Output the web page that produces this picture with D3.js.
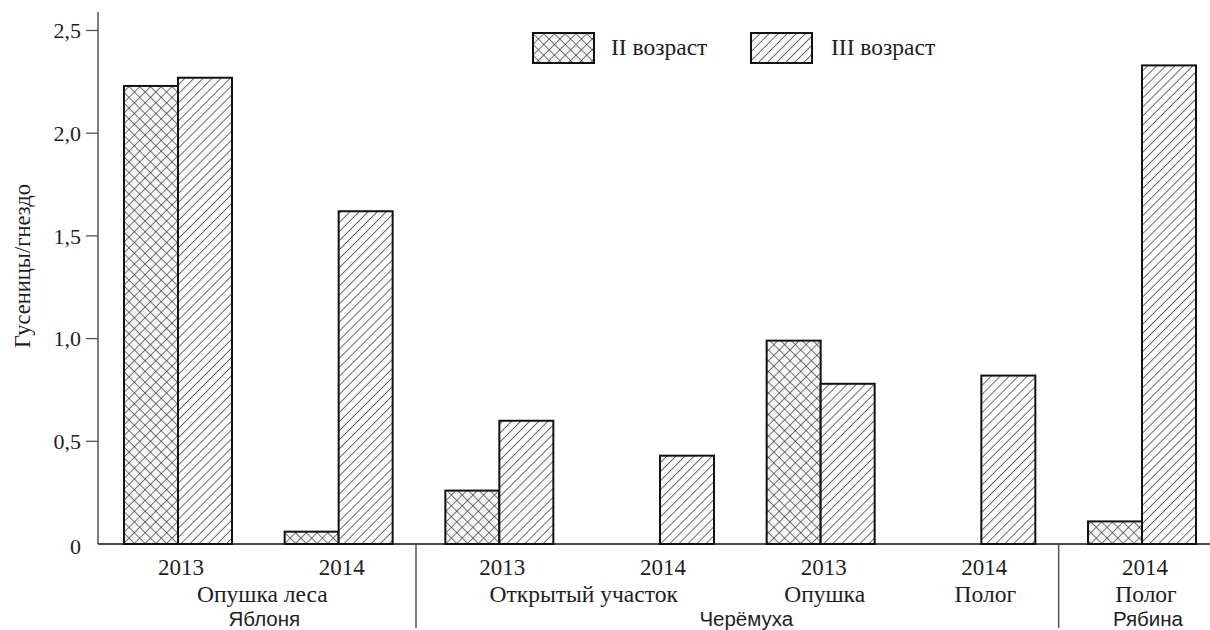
<!DOCTYPE html>
<html>
<head>
<meta charset="utf-8">
<script src="https://cdn.jsdelivr.net/npm/d3@7"></script>
<style>
  body { margin: 0; background: #fff; }
  text { fill: #1e1e1e; }
  .serif { font-family: "Liberation Serif", "Times New Roman", serif; }
  .sans { font-family: "Liberation Sans", Arial, sans-serif; }
</style>
</head>
<body>
<div id="chart"></div>
<script>
var width = 1210,
  height = 630,
  barWidth = 54;

// data
var years = ["2013", "2014", "2013", "2014", "2013", "2014", "2014"];
var age2 = [2.23, 0.06, 0.26, 0, 0.99, 0, 0.11];
var age3 = [2.27, 1.62, 0.60, 0.43, 0.78, 0.82, 2.33];
var sites = [
  { name: "Опушка леса", from: 0, to: 1 },
  { name: "Открытый участок", from: 2, to: 3 },
  { name: "Опушка", from: 4, to: 4 },
  { name: "Полог", from: 5, to: 5 },
  { name: "Полог", from: 6, to: 6 }
];
var trees = [
  { name: "Яблоня", from: 0, to: 1 },
  { name: "Черёмуха", from: 2, to: 5 },
  { name: "Рябина", from: 6, to: 6 }
];
var yTicks = [0, 0.5, 1, 1.5, 2, 2.5];
var seriesNames = ["II возраст", "III возраст"];

var svg = d3.select("#chart").append("svg")
  .attr("width", width)
  .attr("height", height);

var defs = svg.append("defs");

var cross = defs.append("pattern")
  .attr("id", "cross")
  .attr("patternUnits", "userSpaceOnUse")
  .attr("width", 7.6)
  .attr("height", 7.6)
  .attr("patternTransform", "rotate(45)");
cross.append("rect").attr("width", 7.6).attr("height", 7.6).attr("fill", "#f6f6f6");
cross.append("line").attr("x1", 0).attr("y1", 0).attr("x2", 0).attr("y2", 7.6)
  .attr("stroke", "#333").attr("stroke-width", 1.3);
cross.append("line").attr("x1", 0).attr("y1", 0).attr("x2", 7.6).attr("y2", 0)
  .attr("stroke", "#333").attr("stroke-width", 1.3);

var hatch = defs.append("pattern")
  .attr("id", "hatch")
  .attr("patternUnits", "userSpaceOnUse")
  .attr("width", 6.4)
  .attr("height", 6.4)
  .attr("patternTransform", "rotate(45)");
hatch.append("rect").attr("width", 6.4).attr("height", 6.4).attr("fill", "#fbfbfb");
hatch.append("line").attr("x1", 0).attr("y1", 0).attr("x2", 0).attr("y2", 6.4)
  .attr("stroke", "#111").attr("stroke-width", 1.2);

var x = d3.scalePoint()
  .domain(d3.range(years.length))
  .range([178, 1142]);

var y = d3.scaleLinear()
  .domain([0, 2.59])
  .range([544, 12]);

// y axis
var axisX = 98;
svg.append("line")
  .attr("x1", axisX).attr("x2", axisX)
  .attr("y1", y(0)).attr("y2", y(2.59))
  .attr("stroke", "#555").attr("stroke-width", 1.5);

var tick = svg.selectAll(".tick")
  .data(yTicks)
  .enter().append("g")
  .attr("class", "tick")
  .attr("transform", function (d) { return "translate(0," + y(d) + ")"; });

tick.filter(function (d) { return d > 0; }).append("line")
  .attr("x1", axisX - 12).attr("x2", axisX)
  .attr("stroke", "#555").attr("stroke-width", 1.3);

tick.append("text")
  .attr("class", "serif")
  .attr("x", 81)
  .attr("y", function (d) { return d === 0 ? 2 : 0; })
  .attr("dy", "0.35em")
  .attr("text-anchor", "end")
  .attr("font-size", 22)
  .text(function (d) { return d === 0 ? "0" : d3.format(".1f")(d).replace(".", ","); });

svg.append("text")
  .attr("class", "serif")
  .attr("transform", "translate(30," + 266 + ") rotate(-90)")
  .attr("text-anchor", "middle")
  .attr("font-size", 22.5)
  .text("Гусеницы/гнездо");

// bars
var bars = svg.append("g");

bars.selectAll(".b2")
  .data(age2)
  .enter().filter(function (d) { return d > 0; })
  .append("rect")
  .attr("x", function (d) { return x(age2.indexOf(d)) - barWidth; })
  .attr("y", function (d) { return y(d); })
  .attr("width", barWidth)
  .attr("height", function (d) { return y(0) - y(d); })
  .attr("fill", "url(#cross)")
  .attr("stroke", "#111")
  .attr("stroke-width", 2);

bars.selectAll(".b3")
  .data(age3)
  .enter().append("rect")
  .attr("x", function (d, i) { return x(i); })
  .attr("y", function (d) { return y(d); })
  .attr("width", barWidth)
  .attr("height", function (d) { return y(0) - y(d); })
  .attr("fill", "url(#hatch)")
  .attr("stroke", "#111")
  .attr("stroke-width", 2);

// baseline
svg.append("line")
  .attr("x1", axisX).attr("x2", width)
  .attr("y1", y(0)).attr("y2", y(0))
  .attr("stroke", "#111").attr("stroke-width", 1.5);

// separators between trees
trees.slice(1).forEach(function (t) {
  var sx = (x(t.from - 1) + x(t.from)) / 2 - 3;
  svg.append("line")
    .attr("x1", sx).attr("x2", sx)
    .attr("y1", y(0)).attr("y2", 628)
    .attr("stroke", "#555").attr("stroke-width", 1.5);
});

// category labels
svg.selectAll(".year")
  .data(years)
  .enter().append("text")
  .attr("class", "serif")
  .attr("x", function (d, i) { return x(i) + 3; })
  .attr("y", 575)
  .attr("text-anchor", "middle")
  .attr("font-size", 23)
  .text(function (d) { return d; });

svg.selectAll(".site")
  .data(sites)
  .enter().append("text")
  .attr("class", "serif")
  .attr("x", function (d) { return (x(d.from) + x(d.to)) / 2 + 4; })
  .attr("y", 602)
  .attr("text-anchor", "middle")
  .attr("font-size", 23.5)
  .text(function (d) { return d.name; });

svg.selectAll(".tree")
  .data(trees)
  .enter().append("text")
  .attr("class", "sans")
  .attr("x", function (d) { return (x(d.from) + x(d.to)) / 2 + 6; })
  .attr("y", 626)
  .attr("text-anchor", "middle")
  .attr("font-size", 20.5)
  .text(function (d) { return d.name; });

// legend
var legend = svg.selectAll(".legend")
  .data(seriesNames)
  .enter().append("g")
  .attr("transform", function (d, i) { return "translate(" + (533 + i * 218) + ",33)"; });

legend.append("rect")
  .attr("width", 61)
  .attr("height", 30)
  .attr("fill", function (d, i) { return i === 0 ? "url(#cross)" : "url(#hatch)"; })
  .attr("stroke", "#111")
  .attr("stroke-width", 2);

legend.append("text")
  .attr("class", "serif")
  .attr("x", function (d, i) { return i === 0 ? 78 : 80; })
  .attr("y", 22)
  .attr("font-size", 23.5)
  .text(function (d) { return d; });
</script>
</body>
</html>
